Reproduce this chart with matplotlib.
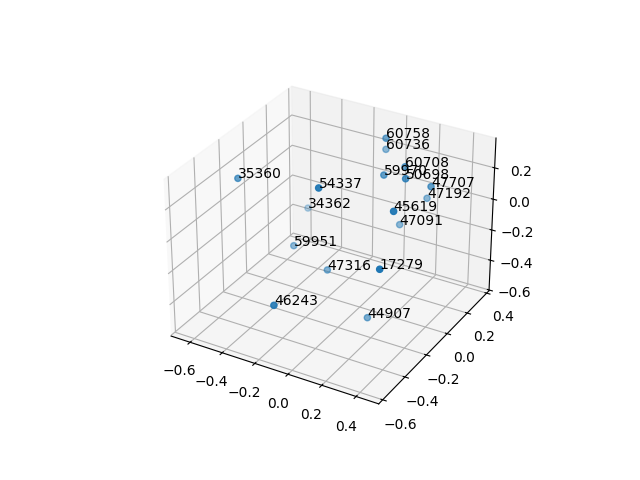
from matplotlib import pyplot as plt

labels = ['60758', '60736', '60708', '59970', '50698', '47707', '47192', '45619', '47091',
          '35360', '54337', '34362', '59951', '47316', '17279', '46243', '44907']
xs = [-0.037, -0.124, 0.122, 0.036, 0.206, 0.267, 0.136, 0.293, 0.043,
      -0.627, -0.066, -0.555, -0.427, -0.201, 0.338, -0.150, 0.083]
ys = [0.288, 0.426, 0.222, 0.158, 0.093, 0.241, 0.423, -0.153, 0.307,
      -0.175, -0.271, 0.333, 0.021, -0.001, -0.342, -0.537, -0.054]
zs = [0.308, 0.136, 0.209, 0.169, 0.232, 0.113, -0.108, 0.201, -0.239,
      0.153, 0.310, -0.322, -0.344, -0.421, -0.025, -0.281, -0.612]

fig = plt.figure(figsize=(6.4, 4.8), dpi=100)
ax = fig.add_subplot(projection='3d')
ax.scatter(xs, ys, zs)

for i in range(len(labels)):
    ax.text(xs[i], ys[i], zs[i], labels[i])

ax.set_xlim(-0.72, 0.53)
ax.set_ylim(-0.635, 0.425)
ax.set_zlim(-0.605, 0.387)

plt.savefig('out.png')
